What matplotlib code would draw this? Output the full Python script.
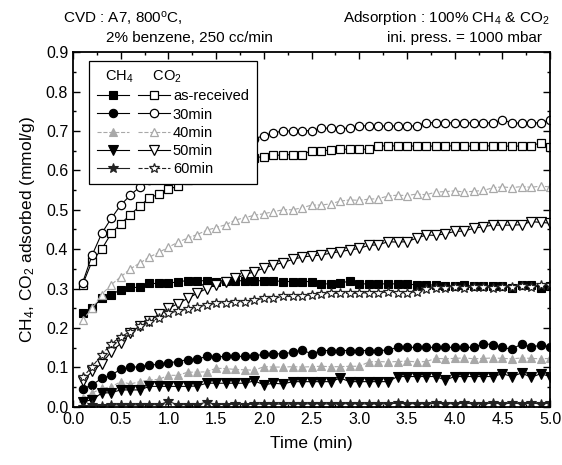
import matplotlib
matplotlib.use("Agg")
import matplotlib.pyplot as plt
from matplotlib.legend_handler import HandlerTuple
from matplotlib.ticker import MultipleLocator, FormatStrFormatter

plt.rcParams['font.family'] = ['Liberation Sans', 'DejaVu Sans']
plt.rcParams['mathtext.fontset'] = 'custom'
plt.rcParams['mathtext.rm'] = 'Liberation Sans'
plt.rcParams['mathtext.it'] = 'Liberation Sans'

time = [0.1, 0.2, 0.3, 0.4, 0.5, 0.6, 0.7, 0.8, 0.9, 1.0,
        1.1, 1.2, 1.3, 1.4, 1.5, 1.6, 1.7, 1.8, 1.9, 2.0,
        2.1, 2.2, 2.3, 2.4, 2.5, 2.6, 2.7, 2.8, 2.9, 3.0,
        3.1, 3.2, 3.3, 3.4, 3.5, 3.6, 3.7, 3.8, 3.9, 4.0,
        4.1, 4.2, 4.3, 4.4, 4.5, 4.6, 4.7, 4.8, 4.9, 5.0]

labels = ["as-received", "30min", "40min", "50min", "60min"]

co2_asrec = [0.31, 0.37, 0.40, 0.44, 0.465, 0.487, 0.51, 0.53, 0.54, 0.552,
             0.56, 0.575, 0.585, 0.595, 0.605, 0.612, 0.62, 0.626, 0.632, 0.635,
             0.638, 0.639, 0.640, 0.640, 0.650, 0.650, 0.651, 0.653, 0.654, 0.653,
             0.654, 0.662, 0.662, 0.662, 0.661, 0.662, 0.662, 0.661, 0.662, 0.662,
             0.662, 0.661, 0.662, 0.662, 0.662, 0.661, 0.662, 0.662, 0.670, 0.660]
co2_30 = [0.315, 0.385, 0.44, 0.478, 0.512, 0.537, 0.558, 0.575, 0.59, 0.605,
          0.617, 0.628, 0.638, 0.647, 0.655, 0.662, 0.668, 0.674, 0.68, 0.688,
          0.695, 0.70, 0.70, 0.70, 0.701, 0.707, 0.707, 0.706, 0.707, 0.713,
          0.713, 0.713, 0.712, 0.713, 0.712, 0.713, 0.721, 0.721, 0.720, 0.721,
          0.720, 0.721, 0.721, 0.720, 0.728, 0.720, 0.720, 0.721, 0.720, 0.728]
co2_40 = [0.22, 0.25, 0.285, 0.31, 0.33, 0.35, 0.365, 0.38, 0.392, 0.405,
          0.418, 0.428, 0.437, 0.448, 0.455, 0.462, 0.474, 0.48, 0.486, 0.49,
          0.495, 0.50, 0.50, 0.505, 0.512, 0.512, 0.515, 0.522, 0.525, 0.524,
          0.527, 0.528, 0.535, 0.537, 0.536, 0.54, 0.538, 0.545, 0.546, 0.548,
          0.545, 0.547, 0.549, 0.556, 0.558, 0.556, 0.559, 0.557, 0.56, 0.558]
co2_50 = [0.065, 0.09, 0.11, 0.14, 0.161, 0.187, 0.205, 0.218, 0.235, 0.25,
          0.262, 0.275, 0.288, 0.30, 0.31, 0.318, 0.326, 0.335, 0.343, 0.352,
          0.36, 0.366, 0.374, 0.38, 0.383, 0.385, 0.39, 0.394, 0.398, 0.402,
          0.41, 0.411, 0.419, 0.418, 0.419, 0.428, 0.436, 0.435, 0.439, 0.445,
          0.446, 0.453, 0.457, 0.461, 0.461, 0.461, 0.462, 0.47, 0.468, 0.466]
co2_60 = [0.075, 0.102, 0.132, 0.16, 0.178, 0.191, 0.204, 0.216, 0.225, 0.238,
          0.243, 0.248, 0.254, 0.258, 0.263, 0.263, 0.267, 0.267, 0.271, 0.275,
          0.275, 0.28, 0.28, 0.282, 0.284, 0.287, 0.288, 0.288, 0.288, 0.288,
          0.29, 0.29, 0.291, 0.29, 0.29, 0.292, 0.30, 0.302, 0.301, 0.303,
          0.302, 0.304, 0.303, 0.302, 0.305, 0.304, 0.306, 0.305, 0.31, 0.308]

ch4_asrec = [0.237, 0.25, 0.276, 0.285, 0.297, 0.303, 0.303, 0.313, 0.313, 0.313,
             0.318, 0.32, 0.32, 0.32, 0.318, 0.32, 0.32, 0.32, 0.32, 0.32,
             0.32, 0.318, 0.318, 0.318, 0.318, 0.312, 0.312, 0.313, 0.32, 0.312,
             0.312, 0.312, 0.312, 0.312, 0.311, 0.31, 0.308, 0.31, 0.307, 0.306,
             0.308, 0.307, 0.307, 0.306, 0.307, 0.301, 0.308, 0.309, 0.302, 0.306]
ch4_30 = [0.045, 0.056, 0.072, 0.08, 0.096, 0.10, 0.102, 0.106, 0.108, 0.112,
          0.115, 0.12, 0.121, 0.128, 0.127, 0.128, 0.128, 0.128, 0.129, 0.134,
          0.134, 0.135, 0.138, 0.145, 0.134, 0.143, 0.143, 0.143, 0.143, 0.143,
          0.143, 0.143, 0.144, 0.151, 0.151, 0.151, 0.151, 0.151, 0.151, 0.151,
          0.151, 0.151, 0.16, 0.158, 0.151, 0.146, 0.16, 0.151, 0.157, 0.152]
ch4_40 = [0.022, 0.035, 0.047, 0.051, 0.064, 0.058, 0.064, 0.068, 0.07, 0.08,
          0.08, 0.088, 0.088, 0.089, 0.098, 0.097, 0.095, 0.094, 0.093, 0.102,
          0.101, 0.101, 0.102, 0.101, 0.102, 0.103, 0.102, 0.102, 0.103, 0.103,
          0.114, 0.115, 0.114, 0.115, 0.116, 0.114, 0.115, 0.123, 0.122, 0.123,
          0.124, 0.122, 0.123, 0.124, 0.123, 0.122, 0.124, 0.123, 0.122, 0.123]
ch4_50 = [0.013, 0.018, 0.035, 0.036, 0.043, 0.043, 0.043, 0.052, 0.052, 0.052,
          0.052, 0.052, 0.053, 0.06, 0.06, 0.06, 0.06, 0.06, 0.066, 0.056,
          0.06, 0.058, 0.064, 0.064, 0.064, 0.064, 0.064, 0.073, 0.064, 0.064,
          0.064, 0.064, 0.064, 0.077, 0.077, 0.077, 0.077, 0.077, 0.068, 0.077,
          0.077, 0.077, 0.077, 0.077, 0.084, 0.077, 0.086, 0.075, 0.084, 0.077]
ch4_60 = [0.0, 0.004, 0.003, 0.005, 0.005, 0.005, 0.005, 0.006, 0.005, 0.014,
          0.005, 0.006, 0.006, 0.012, 0.006, 0.006, 0.007, 0.006, 0.007, 0.007,
          0.007, 0.007, 0.008, 0.007, 0.008, 0.008, 0.007, 0.008, 0.008, 0.008,
          0.007, 0.008, 0.008, 0.009, 0.008, 0.008, 0.008, 0.009, 0.008, 0.008,
          0.009, 0.008, 0.008, 0.009, 0.008, 0.009, 0.008, 0.009, 0.008, 0.009]

ch4_all = [ch4_asrec, ch4_30, ch4_40, ch4_50, ch4_60]
co2_all = [co2_asrec, co2_30, co2_40, co2_50, co2_60]

markers = ['s', 'o', '^', 'v', '*']
colors = ['black', 'black', '#a8a8a8', 'black', '#222222']
co2_ls = ['-', '-', '--', '-', '--']
ch4_ls = ['-', '-', '--', '-', '-']
msizes = [5.6, 6, 6.3, 6.8, 7.2]

fig = plt.figure(figsize=(5.62, 4.65), dpi=100)
ax = fig.add_axes([0.130, 0.125, 0.849, 0.763])

handles = []
for i in range(5):
    h1, = ax.plot(time, ch4_all[i], linestyle=ch4_ls[i], color=colors[i], lw=0.8,
                  marker=markers[i], ms=msizes[i], mfc=colors[i], mec=colors[i], mew=0.8)
    h2, = ax.plot(time, co2_all[i], linestyle=co2_ls[i], color=colors[i], lw=0.8,
                  marker=markers[i], ms=msizes[i], mfc='white', mec=colors[i], mew=0.9)
    handles.append((h1, h2))

ax.set_xlim(0.0, 5.0)
ax.set_ylim(0.0, 0.9)
ax.xaxis.set_major_locator(MultipleLocator(0.5))
ax.xaxis.set_minor_locator(MultipleLocator(0.25))
ax.yaxis.set_major_locator(MultipleLocator(0.1))
ax.yaxis.set_minor_locator(MultipleLocator(0.05))
ax.xaxis.set_major_formatter(FormatStrFormatter('%.1f'))
ax.yaxis.set_major_formatter(FormatStrFormatter('%.1f'))
ax.tick_params(which='both', direction='in', top=True, right=True, labelsize=11.5, width=1.0)
ax.tick_params(which='major', length=5)
ax.tick_params(which='minor', length=2.5)
for s in ax.spines.values():
    s.set_linewidth(1.3)

ax.set_xlabel('Time (min)', fontsize=12.5, labelpad=7)
ax.set_ylabel('CH$_4$, CO$_2$ adsorbed (mmol/g)', fontsize=12.5, labelpad=6)

leg = ax.legend(handles, labels, handler_map={tuple: HandlerTuple(ndivide=None, pad=0.6)},
                loc='upper left', bbox_to_anchor=(0.0335, 0.975), borderaxespad=0,
                fontsize=10.5, handlelength=5.0, handletextpad=0.2, labelspacing=0.28,
                title='  CH$_4$     CO$_2$', title_fontsize=10.5, alignment='left',
                fancybox=False, framealpha=1.0, edgecolor='black', borderpad=0.55)
leg.get_frame().set_linewidth(0.9)
leg.set_zorder(10)

fig.text(0.112, 0.962, 'CVD : A7, 800$^{\\rm o}$C,', fontsize=11, va='center', ha='left')
fig.text(0.188, 0.918, '2% benzene, 250 cc/min', fontsize=11, va='center', ha='left')
fig.text(0.977, 0.962, 'Adsorption : 100% CH$_4$ & CO$_2$', fontsize=11, va='center', ha='right')
fig.text(0.964, 0.918, 'ini. press. = 1000 mbar', fontsize=11, va='center', ha='right')

fig.savefig('out.png', dpi=100)
